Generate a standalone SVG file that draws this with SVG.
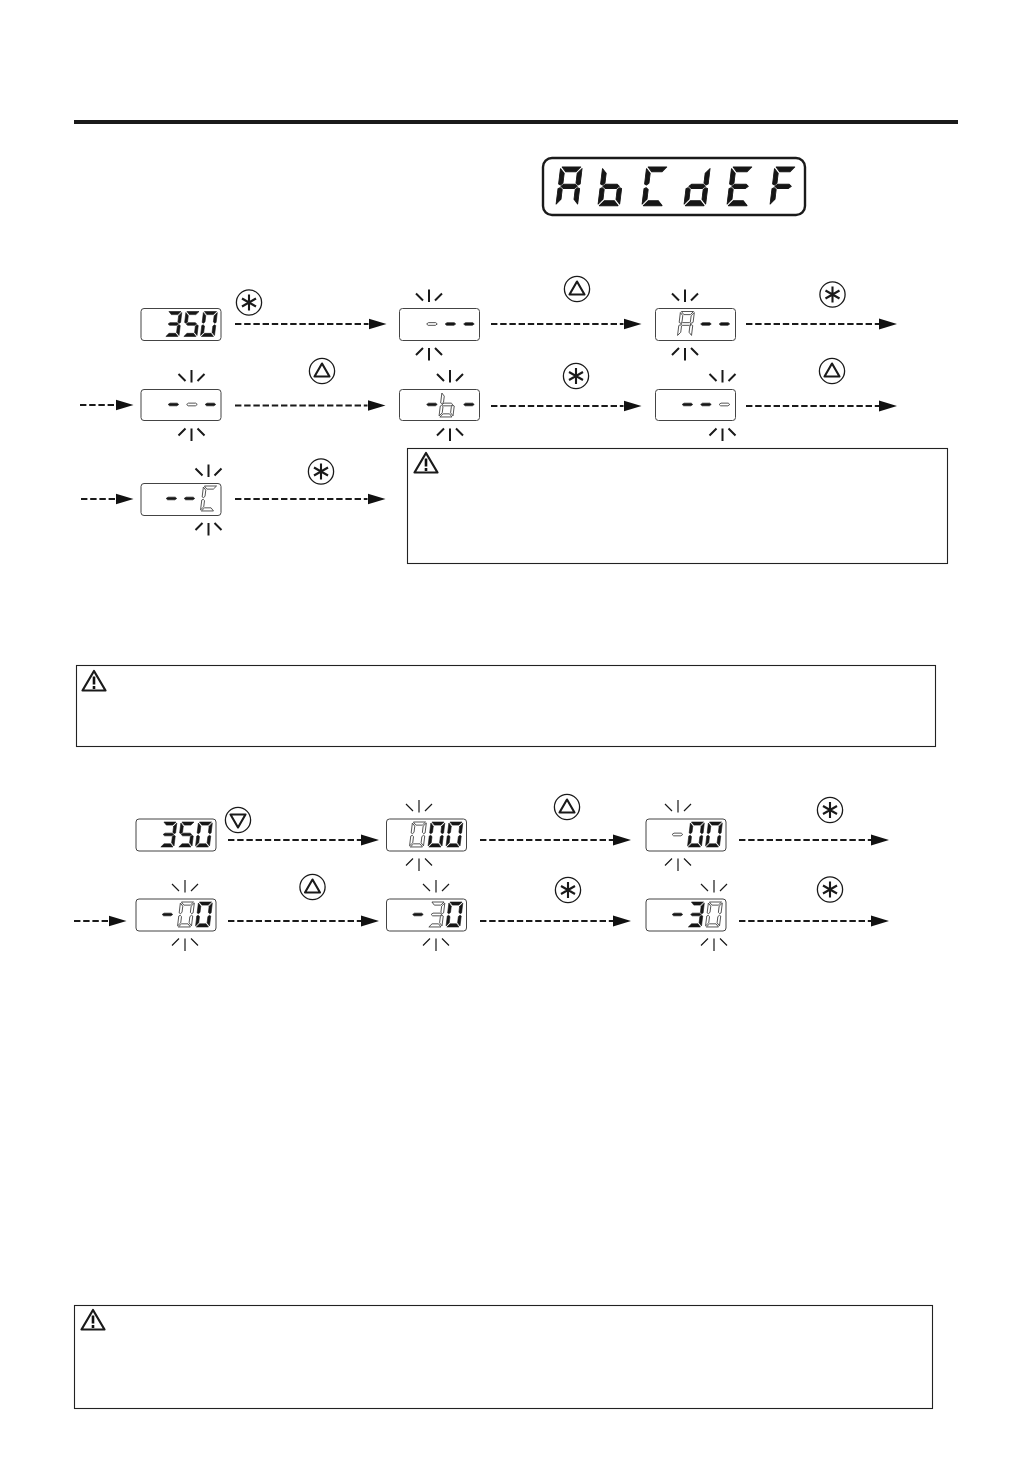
<svg xmlns="http://www.w3.org/2000/svg" width="1032" height="1457" viewBox="0 0 1032 1457">
<style>
.on{fill:#161616;stroke:#161616;stroke-width:.6;stroke-linejoin:round}
.off{fill:#fff;stroke:#3a3a3a;stroke-width:.85;stroke-linejoin:round}
.disp{fill:#fff;stroke:#444;stroke-width:1}
.box{fill:none;stroke:#222;stroke-width:1.1}
.flow{fill:none;stroke:#1a1a1a;stroke-width:1.9;stroke-dasharray:6.4 2.8}
.rays{fill:none;stroke:#1a1a1a;stroke-width:2}
.rays.thin{stroke-width:1.2}
.btn{fill:#fff;stroke:#1a1a1a;stroke-width:1.3}
.gl{fill:none;stroke:#1a1a1a;stroke-width:2.1;stroke-linejoin:round}
.warn{fill:#fff;stroke:#1a1a1a;stroke-width:2.2;stroke-linejoin:round}
</style>
<defs>
<marker id="head" markerUnits="userSpaceOnUse" markerWidth="18" markerHeight="12" refX="0" refY="6" orient="auto"><path d="M0 .5L18 6L0 11.5Z" fill="#111"/></marker>
<polygon id="sa" points="1,0 14,0 11,3 4,3"/>
<polygon id="sb" points="15,1 15,10.5 13.6,11.2 12,10 12,4"/>
<polygon id="sc" points="15,13.5 15,23 12,20 12,14 13.6,12.8"/>
<polygon id="sd" points="1,24 4,21 11,21 14,24"/>
<polygon id="se" points="0,13.5 1.4,12.8 3,14 3,20 0,23"/>
<polygon id="sf" points="0,1 3,4 3,10 1.4,11.2 0,10.5"/>
<polygon id="sg" points="1.8,12 3.6,10.7 11.4,10.7 13.2,12 11.4,13.3 3.6,13.3"/>
<g id="D0" transform="translate(3,0) skewX(-7) scale(.93,1.04)"><use href="#sa"/><use href="#sb"/><use href="#sc"/><use href="#sd"/><use href="#se"/><use href="#sf"/></g>
<g id="D3" transform="translate(3,0) skewX(-7) scale(.93,1.04)"><use href="#sa"/><use href="#sb"/><use href="#sc"/><use href="#sd"/><use href="#sg"/></g>
<g id="D5" transform="translate(3,0) skewX(-7) scale(.93,1.04)"><use href="#sa"/><use href="#sf"/><use href="#sg"/><use href="#sc"/><use href="#sd"/></g>
<g id="DA" transform="translate(3,0) skewX(-7) scale(.93,1.04)"><use href="#sa"/><use href="#sb"/><use href="#sc"/><use href="#se"/><use href="#sf"/><use href="#sg"/></g>
<g id="Db" transform="translate(3,0) skewX(-7) scale(.93,1.04)"><use href="#sc"/><use href="#sd"/><use href="#se"/><use href="#sf"/><use href="#sg"/></g>
<g id="DC" transform="translate(3,0) skewX(-7) scale(.93,1.04)"><use href="#sa"/><use href="#sd"/><use href="#se"/><use href="#sf"/></g>
<g id="Dd" transform="translate(3,0) skewX(-7) scale(.93,1.04)"><use href="#sb"/><use href="#sc"/><use href="#sd"/><use href="#se"/><use href="#sg"/></g>
<g id="DE" transform="translate(3,0) skewX(-7) scale(.93,1.04)"><use href="#sa"/><use href="#sd"/><use href="#se"/><use href="#sf"/><use href="#sg"/></g>
<g id="DF" transform="translate(3,0) skewX(-7) scale(.93,1.04)"><use href="#sa"/><use href="#se"/><use href="#sf"/><use href="#sg"/></g>
<g id="Dm" transform="translate(3,0) skewX(-7) scale(.93,1.04)"><use href="#sg"/></g>
<path id="ray" d="M0-19.500V-7M-13-15.500L-6-8.500M13-15.500L6-8.500M0 39V51.500M-6 39L-13 46M6 39L13 46"/>
<g id="star"><circle class="btn" r="12.6"/><path class="gl" d="M0-8V8M-7-4L7 4M-7 4L7-4"/></g>
<g id="up"><circle class="btn" r="12.6"/><path class="gl" d="M0-7.500L7.500 5.500H-7.500Z"/></g>
<g id="down"><circle class="btn" r="12.6"/><path class="gl" d="M0 7.500L7.500-5.500H-7.500Z"/></g>
<g id="warnicon"><path class="warn" d="M0-10L11.500 9.500H-11.500Z"/><path d="M0-4.500V3.500M0 5V8" stroke="#111" stroke-width="2.6" fill="none"/></g>
</defs>

<rect id="rule" x="74" y="120" width="884" height="4" fill="#1a1a1a"/>

<g id="legend">
<rect x="543" y="158" width="262" height="57" rx="9" fill="#fff" stroke="#1a1a1a" stroke-width="2.4"/>
<use href="#DA" class="on" transform="translate(556,167) scale(1.55)"/>
<use href="#Db" class="on" transform="translate(598,167) scale(1.55)"/>
<use href="#DC" class="on" transform="translate(642,167) scale(1.55)"/>
<use href="#Dd" class="on" transform="translate(684,167) scale(1.55)"/>
<use href="#DE" class="on" transform="translate(727,167) scale(1.55)"/>
<use href="#DF" class="on" transform="translate(770,167) scale(1.55)"/>
</g>

<g id="connectors">
<path class="flow" marker-end="url(#head)" d="M235 324H368.500"/>
<path class="flow" marker-end="url(#head)" d="M491 324H623.500"/>
<path class="flow" marker-end="url(#head)" d="M746 324H879"/>
<path class="flow" marker-end="url(#head)" d="M80 405H115.500"/>
<path class="flow" marker-end="url(#head)" d="M235 405.500H367.500"/>
<path class="flow" marker-end="url(#head)" d="M491 406H623.500"/>
<path class="flow" marker-end="url(#head)" d="M746 406H879"/>
<path class="flow" marker-end="url(#head)" d="M81 499H115.500"/>
<path class="flow" marker-end="url(#head)" d="M235 499H367.500"/>
<path class="flow" marker-end="url(#head)" d="M228 840H361"/>
<path class="flow" marker-end="url(#head)" d="M480 840H613"/>
<path class="flow" marker-end="url(#head)" d="M739 840H871"/>
<path class="flow" marker-end="url(#head)" d="M74 921H108.500"/>
<path class="flow" marker-end="url(#head)" d="M228 921H361"/>
<path class="flow" marker-end="url(#head)" d="M480 921H613"/>
<path class="flow" marker-end="url(#head)" d="M739 921H871"/>
</g>

<g id="buttons">
<use href="#star" x="249" y="302.500"/>
<use href="#up" x="577" y="289"/>
<use href="#star" x="832.500" y="294.500"/>
<use href="#up" x="322" y="371"/>
<use href="#star" x="576" y="376"/>
<use href="#up" x="832" y="371"/>
<use href="#star" x="321" y="471.500"/>
<use href="#down" x="238" y="820"/>
<use href="#up" x="567" y="807"/>
<use href="#star" x="830" y="810"/>
<use href="#up" x="312.500" y="887"/>
<use href="#star" x="568" y="890"/>
<use href="#star" x="830" y="889.500"/>
</g>

<g id="n1">
<rect class="disp" x="141" y="308.500" width="80" height="32" rx="3"/>
<use href="#D3" class="on" transform="translate(165,311.500)"/>
<use href="#D5" class="on" transform="translate(183,311.500)"/>
<use href="#D0" class="on" transform="translate(200.500,311.500)"/>
</g>
<g id="n2">
<rect class="disp" x="399.500" y="308.500" width="80" height="32" rx="3"/>
<use href="#ray" class="rays" transform="translate(429,309)"/>
<use href="#Dm" class="off" transform="translate(423.500,311.500)"/>
<use href="#Dm" class="on" transform="translate(442,311.500)"/>
<use href="#Dm" class="on" transform="translate(460.500,311.500)"/>
</g>
<g id="n3">
<rect class="disp" x="655.500" y="308.500" width="80" height="32" rx="3"/>
<use href="#ray" class="rays" transform="translate(685,309)"/>
<use href="#DA" class="off" transform="translate(677.500,311.500)"/>
<use href="#Dm" class="on" transform="translate(697.500,311.500)"/>
<use href="#Dm" class="on" transform="translate(716,311.500)"/>
</g>
<g id="n4">
<rect class="disp" x="141" y="389.500" width="80" height="31" rx="3"/>
<use href="#ray" class="rays" transform="translate(191.500,389.500)"/>
<use href="#Dm" class="on" transform="translate(165,392)"/>
<use href="#Dm" class="off" transform="translate(183.500,392)"/>
<use href="#Dm" class="on" transform="translate(202,392)"/>
</g>
<g id="n5">
<rect class="disp" x="399.500" y="389.500" width="80" height="31" rx="3"/>
<use href="#ray" class="rays" transform="translate(450,389.500)"/>
<use href="#Dm" class="on" transform="translate(423.500,392)"/>
<use href="#Db" class="off" transform="translate(439,392)"/>
<use href="#Dm" class="on" transform="translate(460.500,392)"/>
</g>
<g id="n6">
<rect class="disp" x="655.500" y="389.500" width="80" height="31" rx="3"/>
<use href="#ray" class="rays" transform="translate(722.500,389.500)"/>
<use href="#Dm" class="on" transform="translate(679,392)"/>
<use href="#Dm" class="on" transform="translate(697.500,392)"/>
<use href="#Dm" class="off" transform="translate(716,392)"/>
</g>
<g id="n7">
<rect class="disp" x="141" y="483.500" width="80" height="32" rx="3"/>
<use href="#ray" class="rays" transform="translate(208.500,484)"/>
<use href="#Dm" class="on" transform="translate(163,486)"/>
<use href="#Dm" class="on" transform="translate(181,486)"/>
<use href="#DC" class="off" transform="translate(200.500,486)"/>
</g>

<g id="note1">
<rect class="box" x="407.500" y="448.500" width="540" height="115"/>
<use href="#warnicon" transform="translate(426,463)"/>
</g>
<g id="note2">
<rect class="box" x="76.500" y="665.500" width="859" height="81"/>
<use href="#warnicon" transform="translate(94,681)"/>
</g>

<g id="n8">
<rect class="disp" x="136" y="819" width="80" height="32" rx="3"/>
<use href="#D3" class="on" transform="translate(160,822)"/>
<use href="#D5" class="on" transform="translate(178,822)"/>
<use href="#D0" class="on" transform="translate(195.500,822)"/>
</g>
<g id="n9">
<rect class="disp" x="386.500" y="819" width="80" height="32" rx="3"/>
<use href="#ray" class="rays thin" transform="translate(419,819.500)"/>
<use href="#D0" class="off" transform="translate(409.500,822)"/>
<use href="#D0" class="on" transform="translate(428,822)"/>
<use href="#D0" class="on" transform="translate(446,822)"/>
</g>
<g id="n10">
<rect class="disp" x="646" y="819" width="80" height="32" rx="3"/>
<use href="#ray" class="rays thin" transform="translate(678,819.500)"/>
<use href="#Dm" class="off" transform="translate(669,822)"/>
<use href="#D0" class="on" transform="translate(687.500,822)"/>
<use href="#D0" class="on" transform="translate(705.500,822)"/>
</g>
<g id="n11">
<rect class="disp" x="136" y="899" width="80" height="32" rx="3"/>
<use href="#ray" class="rays thin" transform="translate(185,899.500)"/>
<use href="#Dm" class="on" transform="translate(159,902)"/>
<use href="#D0" class="off" transform="translate(177.500,902)"/>
<use href="#D0" class="on" transform="translate(195.500,902)"/>
</g>
<g id="n12">
<rect class="disp" x="386.500" y="899" width="80" height="32" rx="3"/>
<use href="#ray" class="rays thin" transform="translate(436,899.500)"/>
<use href="#Dm" class="on" transform="translate(409.500,902)"/>
<use href="#D3" class="off" transform="translate(428,902)"/>
<use href="#D0" class="on" transform="translate(446,902)"/>
</g>
<g id="n13">
<rect class="disp" x="646" y="899" width="80" height="32" rx="3"/>
<use href="#ray" class="rays thin" transform="translate(714,899.500)"/>
<use href="#Dm" class="on" transform="translate(669,902)"/>
<use href="#D3" class="on" transform="translate(687.500,902)"/>
<use href="#D0" class="off" transform="translate(705.500,902)"/>
</g>

<g id="note3">
<rect class="box" x="74.500" y="1305.500" width="858" height="103"/>
<use href="#warnicon" transform="translate(93,1320)"/>
</g>
</svg>
